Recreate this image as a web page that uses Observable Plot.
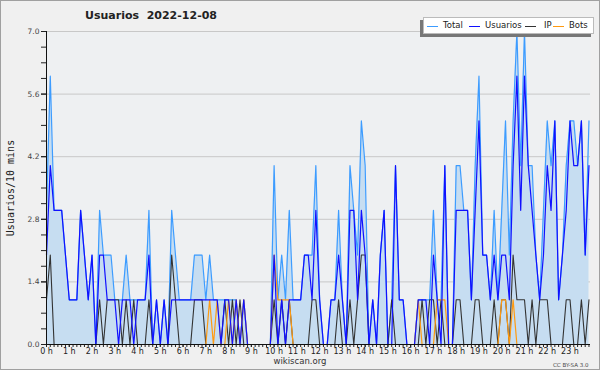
<!DOCTYPE html>
<html><head><meta charset="utf-8">
<script src="https://cdn.jsdelivr.net/npm/d3@7"></script>
<script src="https://cdn.jsdelivr.net/npm/@observablehq/plot@0.6"></script>
<style>
body{margin:0;background:#f0f0f0;font-family:"DejaVu Sans",sans-serif;}
#wrap{position:relative;width:600px;height:370px;overflow:hidden;}
#border{position:absolute;left:0;top:0;width:600px;height:370px;box-sizing:border-box;border:1px solid #a0a0a0;pointer-events:none;}
.t{position:absolute;white-space:pre;color:#222;}
#title{left:0;width:302px;top:9px;text-align:center;font-weight:bold;font-size:11px;}
#ylab{left:10px;top:188px;font-family:"DejaVu Sans Mono",monospace;font-size:10px;transform:translate(-50%,-50%) rotate(-90deg);}
#site{left:0;width:600px;top:356px;text-align:center;font-size:8.5px;color:#333;}
#cc{left:553px;top:362px;font-size:5.5px;color:#444;}
#legend{position:absolute;left:423px;top:17px;width:169px;height:15px;background:#fff;border:1px solid #bbb;box-shadow:-3px 3px 0 #777;font-size:8.5px;color:#222;}
#legend span{position:absolute;top:2px;}
#legend i{position:absolute;top:8px;height:1.3px;width:11px;}
</style></head>
<body>
<div id="wrap">
<div id="chart"></div>
<div class="t" id="title">Usuarios  2022-12-08</div>
<div class="t" id="ylab">Usuarios/10 mins</div>
<div class="t" id="site">wikiscan.org</div>
<div class="t" id="cc">CC BY-SA 3.0</div>
<div id="legend"></div>
<div id="border"></div>
</div>
<script>
// Values per 10-minute slot (144 slots, 0 h .. 23 h 50)
const total = [
  3,6,3,3,3,2,1,1,1,3,2,1,
  2,0,3,2,2,2,1,1,1,2,1,1,
  1,1,1,3,0,1,0,1,0,3,2,1,
  1,1,1,2,2,2,1,2,1,1,1,1,
  1,1,1,0,1,0,0,0,0,0,0,0,
  4,1,2,1,3,1,1,1,2,2,2,4,
  1,0,0,1,1,3,1,0,4,3,2,5,
  4,0,1,0,2,3,0,1,4,1,1,0,
  0,0,1,1,1,1,3,1,1,4,0,0,
  4,4,3,3,1,4,6,2,2,1,3,1,
  3,5,2,5,7,4,7,4,4,2,1,3,
  5,4,5,1,2,4,5,5,4,5,2,5
];
const usuarios = [
  2,4,3,3,3,2,1,1,1,3,2,1,
  2,0,2,2,1,1,1,0,1,1,1,0,
  1,1,1,2,0,1,0,1,0,1,1,1,
  1,1,1,1,1,1,1,1,1,1,0,1,
  1,0,1,0,1,0,0,0,0,0,0,0,
  2,0,1,0,1,1,1,1,2,2,1,3,
  1,0,0,1,1,2,1,0,3,3,1,3,
  2,0,1,0,2,3,0,0,4,1,1,0,
  0,0,1,1,1,0,2,1,0,4,0,0,
  3,3,3,3,1,3,5,2,2,1,2,1,
  2,2,1,4,6,3,6,4,3,2,1,2,
  4,3,5,1,2,3,5,4,4,5,2,4
];
const ip = [
  1,2,0,0,0,0,0,0,0,0,0,0,
  0,0,1,0,1,1,1,1,0,1,0,1,
  0,0,0,1,0,0,0,0,0,2,1,0,
  0,0,0,1,1,1,0,0,0,0,0,1,
  0,1,0,1,0,0,0,0,0,0,0,0,
  1,0,1,0,1,0,0,0,0,0,1,1,
  0,0,0,0,0,1,0,0,1,0,1,2,
  2,0,0,0,0,0,0,1,0,0,0,0,
  0,0,0,1,0,1,1,0,1,0,0,0,
  1,1,0,0,0,1,1,0,0,0,1,0,
  1,1,0,2,1,1,1,0,1,0,1,1,
  1,0,0,0,0,1,1,0,0,1,0,1
];
const bots = [
  0,0,0,0,0,0,0,0,0,0,0,0,
  0,0,0,0,0,0,0,0,0,0,0,0,
  0,0,0,0,0,0,0,0,0,0,0,0,
  0,0,0,0,0,0,0,1,0,1,0,0,
  1,0,1,0,1,0,0,0,0,0,0,0,
  2,1,1,1,1,0,0,0,0,0,0,0,
  0,0,0,0,0,0,0,0,0,0,0,0,
  0,0,0,0,0,0,0,0,0,0,0,0,
  0,0,1,0,0,0,0,1,1,1,0,0,
  0,0,0,0,0,0,0,0,0,0,0,0,
  1,1,0,1,0,0,0,0,0,0,0,0,
  0,0,0,0,0,0,0,0,0,0,0,0
];
const hourLabels = d3.range(24).map(h => h + " h");
const yTicks = [0, 1.4, 2.8, 4.2, 5.6, 7.0];
const seriesNames = ["Total", "Usuarios", "IP", "Bots"];
const seriesColors = ["#3d9cff", "#1010ff", "#333333", "#ff9a10"];

const data = total.map((t, i) => ({h: i / 6, total: t, usuarios: usuarios[i], ip: ip[i], bots: bots[i]}));

const chart = Plot.plot({
  width: 600, height: 370,
  marginLeft: 46, marginRight: 10, marginTop: 31, marginBottom: 26,
  style: {background: "transparent", fontFamily: "DejaVu Sans, sans-serif", color: "#333"},
  x: {domain: [0, 23.9]},
  y: {domain: [0, 7]},
  marks: [
    Plot.frame({fill: "#eef0f2", stroke: null}),
    Plot.gridY(yTicks, {stroke: "#c8c8c8", strokeOpacity: 1, strokeWidth: 1}),
    Plot.areaY(data, {x: "h", y: "total", fill: "#c6ddf1"}),
    Plot.lineY(data, {x: "h", y: "total", stroke: seriesColors[0], strokeWidth: 1.2}),
    Plot.lineY(data, {x: "h", y: "ip", stroke: seriesColors[2], strokeWidth: 1.1}),
    Plot.lineY(data, {x: "h", y: "bots", stroke: seriesColors[3], strokeWidth: 1.2}),
    Plot.lineY(data, {x: "h", y: "usuarios", stroke: seriesColors[1], strokeWidth: 1.2}),
    Plot.axisY(d3.range(0, 7.01, 0.35), {tickSize: 5, text: null, stroke: "#222", label: null}),
    Plot.axisY(yTicks, {tickSize: 5, tickFormat: d => d.toFixed(1), fontSize: 7.5, tickPadding: 2, stroke: "#222", fill: "#444", label: null}),
    Plot.axisX(d3.range(0, 144).map(i => i / 6), {tickSize: 3, text: null, stroke: "#222", label: null}),
    Plot.axisX(d3.range(24), {tickSize: 3, tickFormat: (d, i) => hourLabels[i], fontSize: 8, tickPadding: 1, stroke: "#222", fill: "#222", label: null}),
    Plot.ruleX([0], {stroke: "#111"}),
    Plot.ruleY([0], {stroke: "#111"})
  ]
});
document.getElementById("chart").appendChild(chart);

// legend
const lg = document.getElementById("legend");
const pos = [[3, 19], [45, 61], [101, 120], [129, 145]];
seriesNames.forEach((n, k) => {
  const sw = document.createElement("i");
  sw.style.left = pos[k][0] + "px";
  sw.style.background = seriesColors[k];
  lg.appendChild(sw);
  const s = document.createElement("span");
  s.style.left = pos[k][1] + "px";
  s.textContent = n;
  lg.appendChild(s);
});
</script>
</body></html>
